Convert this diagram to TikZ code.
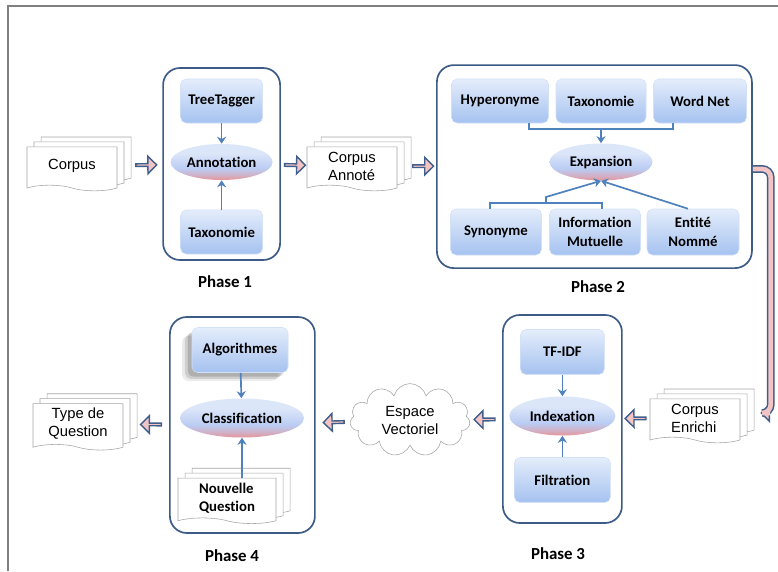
\documentclass[tikz,border=0pt]{standalone}
\usepackage{fontspec}
\setmainfont{Carlito}[Ligatures=NoCommon]
\newfontfamily\docfont{Liberation Sans}
\usetikzlibrary{arrows.meta,positioning,calc,shapes.geometric,shapes.symbols,shapes.arrows,shadows}

\definecolor{framec}{RGB}{128,128,128}
\definecolor{phline}{RGB}{60,91,134}
\definecolor{boxtop}{RGB}{228,237,251}
\definecolor{boxbot}{RGB}{165,194,240}
\definecolor{elltop}{RGB}{220,230,249}
\definecolor{ellmid}{RGB}{186,204,243}
\definecolor{ellbot}{RGB}{230,150,155}
\definecolor{blkfill}{RGB}{242,196,196}
\definecolor{blkline}{RGB}{63,94,140}
\definecolor{lnk}{RGB}{79,129,189}
\definecolor{docline}{RGB}{165,165,165}
\pgfdeclareverticalshading{ellshade}{100bp}{color(0bp)=(ellbot); color(25bp)=(ellbot);
  color(32bp)=(ellbot!50!ellmid); color(41bp)=(ellmid); color(62bp)=(elltop); color(100bp)=(elltop)}

\begin{document}
\begin{tikzpicture}[
  phase/.style={draw=phline, line width=1.2pt, rounded corners=12pt, fill=white},
  box/.style={rounded corners=4pt, top color=boxtop, bottom color=boxbot, draw=boxbot!50,
    font=\bfseries\fontsize{10.5}{13}\selectfont, align=center, minimum height=1.1cm},
  proc/.style={ellipse, shading=ellshade, inner sep=0pt,
    font=\bfseries\fontsize{10.5}{13}\selectfont},
  doc/.style={tape, tape bend top=none, tape bend bottom=out and in, tape bend height=4pt,
    draw=docline, fill=white, align=left, minimum width=2.25cm, minimum height=1.1cm,
    copy shadow={shadow xshift=10pt, shadow yshift=7pt, draw=docline, fill=white},
    copy shadow={shadow xshift=5pt, shadow yshift=3.5pt, draw=docline, fill=white},
    font=\docfont\fontsize{10.5}{12.8}\selectfont},
  blk/.style={single arrow, draw=blkline, fill=blkfill, line width=1pt, sloped, allow upside down,
    minimum height=5.2mm, minimum width=4.4mm, single arrow head extend=1mm, inner sep=0pt},
  ttl/.style={font=\bfseries\fontsize{12}{14}\selectfont},
  arr/.style={-{Stealth[length=5pt,width=6.5pt]}, lnk, line width=1.2pt},
  lnkline/.style={lnk, line width=1pt}]
\useasboundingbox (0,0) rectangle (19.45,14.275);
% frame
\draw[framec, line width=1.2pt] (0.2,0) -- (0.2,14.125) -- (19.45,14.125);

% phase 1: annotation
\begin{scope}[shift={(5.54,10.175)}]
\node[phase, minimum width=2.925cm, minimum height=4.8cm] (ph1) at (0,0) {};
\node[box, minimum width=2.05cm] (tt) at (0,1.575) {TreeTagger};
\node[proc, minimum width=2.55cm, minimum height=0.9cm] (ann) at (0,0.05) {Annotation};
\node[box, minimum width=2.05cm] (tax1) at (0,-1.7) {Taxonomie};
\draw[arr] (tt) -- (ann); \draw[arr] (tax1) -- (ann);
\node[ttl] (t1) at (0.085,-2.95) {Phase 1};
\end{scope}

% phase 2: expansion
\begin{scope}[shift={(14.86,10.11)}]
\node[phase, minimum width=7.875cm, minimum height=5.075cm] (ph2) at (0,0) {};
\node[box, minimum width=2.425cm] (hyp) at (-2.36,1.64) {Hyperonyme};
\node[box, minimum width=2.25cm] (tax2) at (0.165,1.64) {Taxonomie};
\node[box, minimum width=2.325cm] (wn) at (2.64,1.64) {Word Net};
\node[proc, minimum width=2.575cm, minimum height=0.925cm] (exp) at (0.165,0.115) {Expansion};
\node[box, minimum width=2.275cm, minimum height=1.15cm] (syn) at (-2.46,-1.635) {Synonyme};
\node[box, minimum width=2.275cm, minimum height=1.15cm] (info) at (0.015,-1.635) {Information\\Mutuelle};
\node[box, minimum width=2.3cm, minimum height=1.15cm] (ent) at (2.465,-1.635) {Entité\\Nommé};
\coordinate (jt) at (0.165,0.94);
\coordinate (jb) at (-1.21,-0.91);
\draw[lnkline] ([xshift=7.25mm]hyp.south) |- (jt) -| ([xshift=-6.75mm]wn.south);
\draw[arr] (jt) -- (exp);
\draw[lnkline] ([xshift=-1.5mm]syn.north) |- (jb) -| ([xshift=1.75mm]info.north);
\draw[arr] (jb) -- ++(0,0.15) -- (exp.south);
\draw[arr] ([xshift=-1.25mm]ent.north) -- (exp.south);
\node[ttl] (t2) at (0.09,-3.01) {Phase 2};
\end{scope}

% phase 3: indexation
\begin{scope}[shift={(14.06,3.8)}]
\node[phase, minimum width=2.975cm, minimum height=5.2cm] (ph3) at (0,0) {};
\node[box, minimum width=2.1cm, minimum height=1.125cm] (tfidf) at (0,1.675) {TF-IDF};
\node[proc, minimum width=2.65cm, minimum height=0.975cm] (idx) at (0,0.075) {Indexation};
\node[box, minimum width=2.4cm, minimum height=1.125cm] (filt) at (0,-1.525) {Filtration};
\draw[arr] (tfidf) -- (idx); \draw[arr] (filt) -- (idx);
\node[ttl] (t3) at (-0.11,-3.375) {Phase 3};
\end{scope}

% phase 4: classification
\begin{scope}[shift={(6.06,3.65)}]
\node[phase, minimum width=3.625cm, minimum height=5.4cm] (ph4) at (0,0) {};
\node[box, minimum width=2.4cm, minimum height=1.125cm,
  drop shadow={shadow xshift=-7pt, shadow yshift=-6pt, fill=black, opacity=.08},
  drop shadow={shadow xshift=-5pt, shadow yshift=-4.5pt, fill=black, opacity=.12},
  drop shadow={shadow xshift=-3pt, shadow yshift=-3pt, fill=black, opacity=.15}] (algo) at (-0.06,1.875) {Algorithmes};
\node[proc, minimum width=3.1cm, minimum height=0.975cm] (cls) at (-0.01,0.175) {Classification};
\node[doc, minimum width=2.45cm, font=\bfseries\fontsize{10.5}{13}\selectfont] (nq) at (-0.385,-1.825) {Nouvelle\\Question};
\draw[arr] (algo) -- (cls); \draw[arr] (nq.north -| cls) -- (cls);
\node[ttl] (t4) at (-0.26,-3.275) {Phase 4};
\end{scope}

% corpus documents and cloud
\node[doc] (corpus) at (1.8,10.125) {Corpus};
\node[doc] (annot) at (8.8,10.125) {Corpus\\Annoté};
\node[doc] (enr) at (17.375,3.825) {Corpus\\Enrichi};
\node[doc, align=center] (typeq) at (1.95,3.675) {Type de\\Question};
\node[cloud, cloud puffs=11, aspect=1.7, draw=docline, fill=white, align=center,
  minimum width=3cm, minimum height=1.75cm, font=\docfont\fontsize{10.5}{12.8}\selectfont]
  (vec) at (10.25,3.775) {Espace\\Vectoriel};

% block arrows
\path (corpus) -- (ph1) node[blk, pos=.63] (a1) {};
\path (ph1) -- (annot) node[blk, pos=.52] (a2) {};
\path (annot) -- (ph2) node[blk, pos=.65] (a3) {};
\path (enr) -- (ph3) node[blk, pos=.5] (a4) {};
\path (ph3) -- (vec) node[blk, pos=.515] (a5) {};
\path (vec) -- (ph4) node[blk, pos=.457] (a6) {};
\path (ph4) -- (typeq) node[blk, pos=.38] (a7) {};

% loop from phase 2 to enriched corpus
\draw[blkline, line width=5.5pt, rounded corners=6pt,
  -{Triangle[length=7pt, width=14pt, line width=1pt, fill=blkfill]}]
  ([yshift=-0.6mm]ph2.east) -- ++(0.45,0) |- ([xshift=5mm,yshift=1.25mm]enr.east);
\draw[blkfill, line width=3.3pt, rounded corners=6pt, shorten >=7pt]
  ([yshift=-0.6mm]ph2.east) -- ++(0.45,0) |- ([xshift=5mm,yshift=1.25mm]enr.east);
\end{tikzpicture}
\end{document}
